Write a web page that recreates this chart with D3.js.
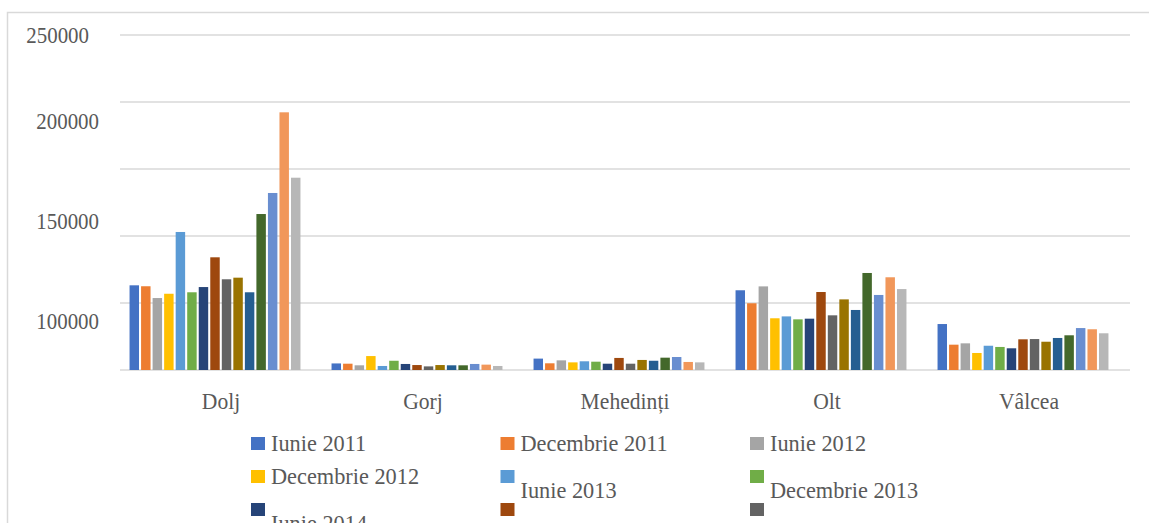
<!DOCTYPE html>
<html>
<head>
<meta charset="utf-8">
<script src="https://cdn.jsdelivr.net/npm/d3@7"></script>
<style>
  html, body { margin: 0; padding: 0; background: #fff; overflow: hidden; }
  svg { display: block; }
  text { font-family: "Liberation Serif", "Times New Roman", serif; fill: #595959; }
</style>
</head>
<body>
<svg id="chart" width="1149" height="523"></svg>
<script>
const categories = ["Dolj", "Gorj", "Mehedinți", "Olt", "Vâlcea"];
const seriesNames = ["Iunie 2011", "Decembrie 2011", "Iunie 2012", "Decembrie 2012", "Iunie 2013",
  "Decembrie 2013", "Iunie 2014", "Decembrie 2014", "Iunie 2015", "Decembrie 2015",
  "Iunie 2016", "Decembrie 2016", "Iunie 2017", "Decembrie 2017", "Iunie 2018"];
const seriesColors = ["#4472C4", "#ED7D31", "#A5A5A5", "#FFC000", "#5B9BD5", "#70AD47",
  "#264478", "#9E480E", "#636363", "#997300", "#255E91", "#43682B", "#698ED0", "#F1975A", "#B7B7B7"];
const doljValues = [63200, 62500, 53700, 56900, 103000, 58000, 61900, 84100, 67700, 68900, 58000, 116400, 132100, 192300, 143500];
const gorjValues = [4900, 4700, 3500, 10400, 3000, 6900, 4500, 3700, 2700, 3700, 3500, 3500, 4500, 4000, 3000];
const mehedintiValues = [8500, 5000, 7200, 5700, 6500, 6200, 4700, 9000, 4700, 7500, 6900, 9200, 9700, 6000, 5700];
const oltValues = [59500, 49800, 62400, 38600, 40000, 37800, 38300, 58200, 40800, 52700, 44800, 72400, 56000, 69200, 60400];
const valceaValues = [34300, 18900, 19900, 12700, 18100, 17200, 16200, 22900, 23100, 21100, 23900, 25900, 31300, 30400, 27400];
const yTickLabels = ["250000", "200000", "150000", "100000"];
const yMax = 250000;

const countyValues = [doljValues, gorjValues, mehedintiValues, oltValues, valceaValues];
const table = categories.map((c, i) => ({ cat: c, values: countyValues[i] }));

const svg = d3.select("#chart");

// frame
svg.append("rect").attr("x", 7.5).attr("y", 12.5).attr("width", 1300).attr("height", 700)
  .attr("fill", "#fff").attr("stroke", "#d9d9d9").attr("stroke-width", 1.5);

const plotLeft = 120, plotRight = 1130, plotTop = 35, plotBottom = 370;

const y = d3.scaleLinear().domain([0, yMax]).range([plotBottom, plotTop]);
const xLabel = d3.scaleBand().domain(categories).range([plotLeft, plotRight]);
const x0 = d3.scaleBand().domain(categories).range([plotLeft - 6, plotRight - 6])
  .paddingInner(0.1436).paddingOuter(0.0718);
const x1 = d3.scaleBand().domain(seriesNames).range([0, x0.bandwidth()])
  .paddingInner(0.18).paddingOuter(0.09);
const color = d3.scaleOrdinal().domain(seriesNames).range(seriesColors);

// gridlines
svg.append("g").selectAll("line").data(y.ticks(5)).join("line")
  .attr("x1", plotLeft).attr("x2", plotRight)
  .attr("y1", d => y(d)).attr("y2", d => y(d))
  .attr("stroke", "#d9d9d9").attr("stroke-width", 1.5);

// y labels (positioned as in the reference)
const yLabelPos = [[89, y(yMax)], [99, 121], [99, 221], [99, 321]];
svg.append("g").selectAll("text").data(yTickLabels).join("text")
  .attr("transform", (d, i) => `translate(${yLabelPos[i][0]},${yLabelPos[i][1]}) scale(0.89,1)`)
  .attr("dy", "0.34em").attr("text-anchor", "end")
  .style("font-size", "23.5px").text(d => d);

// bars
const groups = svg.append("g").selectAll("g").data(table).join("g")
  .attr("transform", d => `translate(${x0(d.cat)},0)`);
groups.selectAll("rect").data(d => d.values.map((v, i) => ({ key: seriesNames[i], v })))
  .join("rect")
  .attr("x", d => x1(d.key)).attr("width", x1.bandwidth())
  .attr("y", d => y(d.v)).attr("height", d => y(0) - y(d.v))
  .attr("fill", d => color(d.key));

// category labels
svg.append("g").selectAll("text").data(categories).join("text")
  .attr("transform", d => `translate(${xLabel(d) + xLabel.bandwidth() / 2},409) scale(0.92,1)`)
  .attr("text-anchor", "middle").style("font-size", "23.5px").text(d => d);

// legend
const legendX = 251, legendY = 437, colStep = 249.5, rowStep = 33;
const legend = svg.append("g").selectAll("g").data(seriesNames).join("g")
  .attr("transform", (d, i) => `translate(${legendX + (i % 3) * colStep},${legendY + Math.floor(i / 3) * rowStep})`);
legend.append("rect").attr("width", 14).attr("height", 13).attr("fill", d => color(d));
legend.append("text")
  .attr("transform", (d, i) => `translate(20,${i < 4 ? 13.5 : (i < 7 ? 28 : 60)}) scale(0.95,1)`)
  .style("font-size", "23.5px").text(d => d);
</script>
</body>
</html>
